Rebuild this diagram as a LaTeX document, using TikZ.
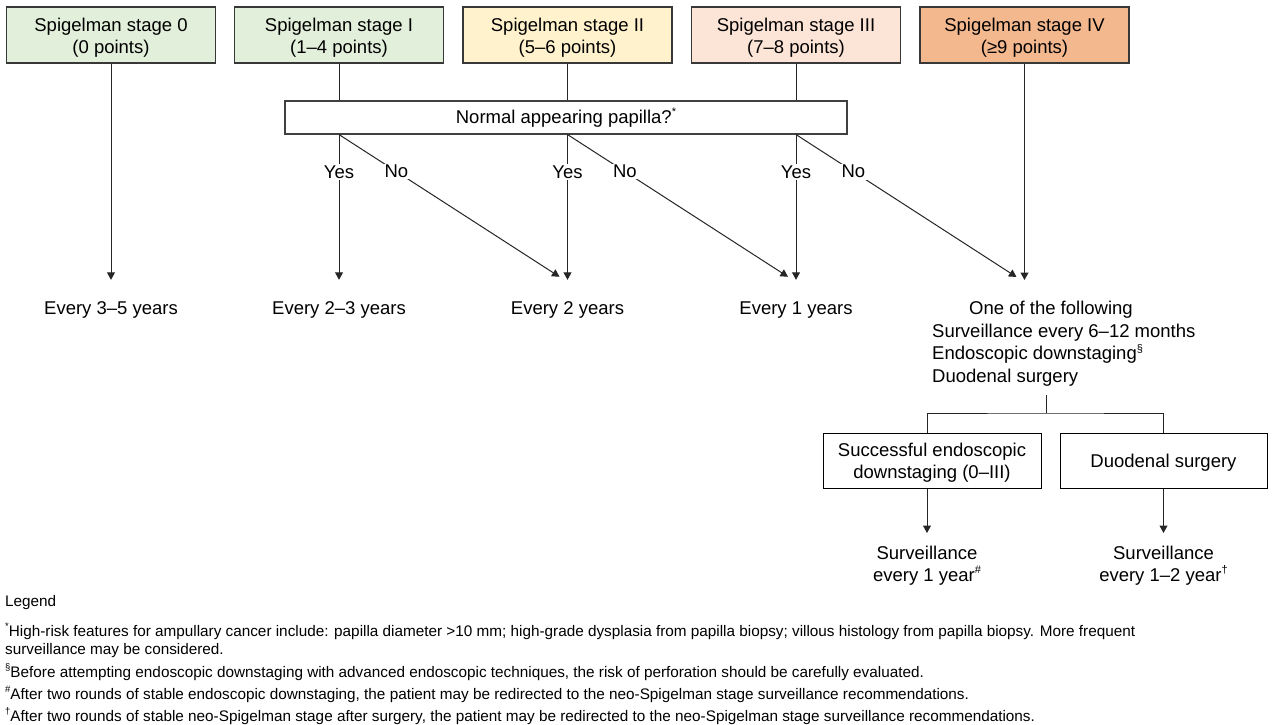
\documentclass[tikz,border=0pt]{standalone}
\usepackage{fontspec}
\setmainfont{Liberation Sans}
\usetikzlibrary{arrows.meta,calc}
\definecolor{cg}{HTML}{E2EFDA}
\definecolor{cy}{HTML}{FFF2CC}
\definecolor{cp}{HTML}{FCE4D6}
\definecolor{co}{HTML}{F4B88E}
\newcommand\mfs{\fontsize{18.5}{22}\selectfont}
\newcommand\bfs{\fontsize{18.5}{22.6}\selectfont}
\newcommand\lfs{\fontsize{15.3}{18}\selectfont}
\newcommand\msup[1]{\raisebox{0.42em}{\fontsize{11}{11}\selectfont #1}}
\newcommand\lsup[1]{\raisebox{0.42em}{\fontsize{9.5}{9.5}\selectfont #1}}
\begin{document}
\begin{tikzpicture}[x=1pt,y=-1pt,
  stage/.style={draw=black!78, line width=1.1pt, minimum width=209pt, minimum height=56pt, inner sep=0pt},
  stxt/.style={font=\mfs, align=center, inner sep=0pt, yshift=-3pt},
  btxt/.style={font=\mfs, align=center, inner sep=0pt, yshift=-2pt},
  plainbox/.style={draw=black, line width=1pt, inner sep=0pt},
  conn/.style={draw=black!85, line width=1pt},
  arr/.style={conn, -{Triangle[length=7.5pt,width=8pt]}},
  lbl/.style={fill=white, inner sep=1.5pt, font=\mfs},
  outc/.style={inner xsep=2pt, inner ysep=21.25pt, text height=13.5pt, text depth=4pt, font=\mfs},
  survc/.style={font=\mfs, align=center, inner xsep=2pt, inner ysep=13pt, anchor=north},
  legt/.style={anchor=base west, inner sep=0pt, font=\lfs}
]
\fill[white] (0,0) rectangle (1272,725);
\useasboundingbox (0,0) rectangle (1272,725);

% stage boxes
\node[stage, fill=cg, label={[stxt]center:Spigelman stage 0\\(0 points)}] (s0) at (111,35) {};
\node[stage, fill=cg, label={[stxt]center:Spigelman stage I\\(1–4 points)}] (s1) at (339,35) {};
\node[stage, fill=cy, label={[stxt]center:Spigelman stage II\\(5–6 points)}] (s2) at (567.5,35) {};
\node[stage, fill=cp, label={[stxt]center:Spigelman stage III\\(7–8 points)}] (s3) at (796,35) {};
\node[stage, fill=co, label={[stxt]center:Spigelman stage IV\\(≥9 points)}] (s4) at (1024.5,35) {};

% papilla question
\node[draw=black!75, line width=1.1pt, minimum width=562pt, minimum height=33pt, inner sep=0pt, font=\mfs] (pap) at (566,117.5) {\raisebox{-1pt}{Normal appearing papilla?\msup{*}}};

% outcomes
\node[outc] (e0) at (111,310) {Every 3–5 years};
\node[outc] (e1) at (339,310) {Every 2–3 years};
\node[outc] (e2) at (567.5,310) {Every 2 years};
\node[outc] (e3) at (796,310) {Every 1 years};
\coordinate (t4) at (1024.5,280);

\node[font=\bfs, align=left, inner sep=0pt, anchor=north west] (opt) at (932,301)
  {\hspace*{37pt}One of the following\\Surveillance every 6–12 months\\Endoscopic downstaging\msup{§}\\Duodenal surgery};

% connectors
\draw[arr] (s0) -- (e0);
\foreach \s in {s1,s2,s3} {
  \draw[conn] (\s) -- (\s |- pap.north);
}
\draw[arr] (s1 |- pap.south) -- node[lbl,pos=0.26]{Yes} (e1.north);
\draw[arr] (s1 |- pap.south) -- node[lbl,pos=0.26]{No} ($(e2.north)+(-8,-3)$);
\draw[arr] (s2 |- pap.south) -- node[lbl,pos=0.26]{Yes} (e2.north);
\draw[arr] (s2 |- pap.south) -- node[lbl,pos=0.26]{No} ($(e3.north)+(-8,-3)$);
\draw[arr] (s3 |- pap.south) -- node[lbl,pos=0.26]{Yes} (e3.north);
\draw[arr] (s3 |- pap.south) -- node[lbl,pos=0.26]{No} ($(t4)+(-8,-3)$);
\draw[arr] (s4) -- (t4);

% bottom branch
\node[plainbox, minimum width=218pt, minimum height=55pt, label={[btxt]center:Successful endoscopic\\downstaging (0–III)}] (succ) at (932,460.5) {};
\node[plainbox, minimum width=207pt, minimum height=55pt, label={[btxt]center:Duodenal surgery}] (dsurg) at (1163.5,460.5) {};
\coordinate (brtop) at (1046,395);
\coordinate (brmid) at (1046,413);
\draw[conn] (brtop) -- (brmid);
\draw[conn] ([xshift=-5pt]succ.north) |- (brmid) -| (dsurg.north);

\node[survc] (sv1) at (927,533) {Surveillance\\every 1 year\msup{\#}};
\node[survc] (sv2) at (1163.5,533) {Surveillance\\every 1–2 year\msup{†}};
\draw[arr] ([xshift=-5pt]succ.south) -- (sv1.north);
\draw[arr] (dsurg) -- (sv2.north);

% legend
\node[legt] (leg) at (5,606) {Legend};
\node[legt] (f1) at (5,636) {\lsup{*}High-risk features for ampullary cancer include: papilla diameter >10 mm; high-grade dysplasia from papilla biopsy; villous histology from papilla biopsy. More frequent};
\node[legt] (f1b) at (5,654) {surveillance may be considered.};
\node[legt] (f2) at (5,677) {\lsup{§}Before attempting endoscopic downstaging with advanced endoscopic techniques, the risk of perforation should be carefully evaluated.};
\node[legt] (f3) at (5,699) {\lsup{\#}After two rounds of stable endoscopic downstaging, the patient may be redirected to the neo-Spigelman stage surveillance recommendations.};
\node[legt] (f4) at (5,721) {\lsup{†}After two rounds of stable neo-Spigelman stage after surgery, the patient may be redirected to the neo-Spigelman stage surveillance recommendations.};
\end{tikzpicture}
\end{document}
